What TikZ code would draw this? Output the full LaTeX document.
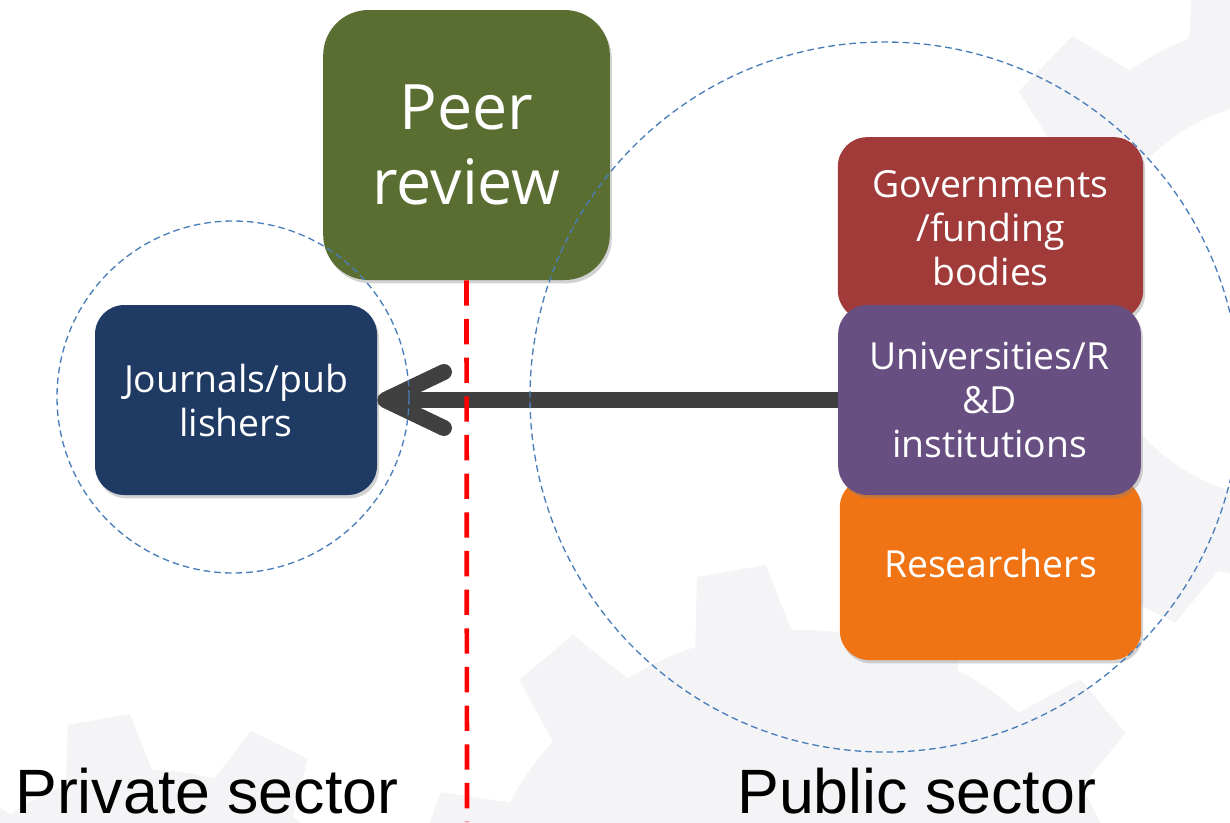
\documentclass[tikz,border=0pt]{standalone}
\usepackage{fontspec}
\setmainfont{Open Sans}
\newfontfamily\arialf{Liberation Sans}
\usetikzlibrary{arrows.meta,shadows}
\definecolor{peerg}{HTML}{5A6E31}
\definecolor{jblue}{HTML}{1F3B63}
\definecolor{govred}{HTML}{A03B3A}
\definecolor{unipur}{HTML}{674F82}
\definecolor{resorg}{HTML}{F07314}
\definecolor{circblue}{HTML}{4A7EBB}
\definecolor{arrowgrey}{HTML}{404040}
\definecolor{gearc}{HTML}{F4F4F7}
% #1 cx, #2 cy, #3 body radius, #4 tip radius, #5 teeth, #6 tooth half width, #7 hole radius
\newcommand\mygear[7]{%
  \fill[gearc] (#1,#2) circle[radius=#3];
  \foreach \k in {1,...,#5}{%
    \fill[gearc, shift={(#1,#2)}, rotate=\k*360/#5+10]
      (-#6,#3-10) -- (-0.7*#6,#4) -- (0.7*#6,#4) -- (#6,#3-10) -- cycle;}
  \fill[white] (#1,#2) circle[radius=#7];
}
\begin{document}
\begin{tikzpicture}[x=0.75pt,y=-0.75pt,
  box/.style={rounded corners=22pt, text=white, align=center, inner sep=0pt,
    font=\fontsize{28}{33}\selectfont,
    drop shadow={opacity=0.35,shadow xshift=1.5pt,shadow yshift=-2.5pt}},
  ring/.style={circle, draw=circblue, line width=1pt, dash pattern=on 5pt off 3pt, inner sep=0pt},
  divider/.style={red, line width=3.5pt, dash pattern=on 19pt off 10pt},
  flow/.style={arrowgrey, line width=12pt, {Straight Barb[length=44pt,width=42pt,round]}-},
  sector/.style={anchor=base west, inner sep=0pt, font=\arialf\fontsize{47}{56}\selectfont}]
\useasboundingbox (0,0) rectangle (1230,822);
\fill[white] (0,0) rectangle (1230,822);
% faint background gears
\begin{scope}
\clip (0,0) rectangle (1230,822);
\mygear{1290}{300}{280}{340}{10}{55}{200}
\mygear{800}{960}{330}{395}{12}{50}{90}
\mygear{150}{1010}{240}{295}{10}{45}{60}
\end{scope}
% boxes
\node[box, fill=peerg, minimum width=215pt, minimum height=202.5pt, rounded corners=34pt,
  font=\fontsize{47}{56}\selectfont] (peer) at (466.5,145) {Peer\\review};
\node[box, fill=jblue, minimum width=211.5pt, minimum height=142.5pt] (jour) at (236,400) {Journals/pub\\lishers};
\node[box, fill=govred, minimum width=229pt, minimum height=137pt] (gov) at (990.5,228.5) {Governments\\/funding\\bodies};
\node[box, fill=resorg, minimum width=226pt, minimum height=136.5pt] (res) at (990.5,569) {\raisebox{4pt}[\height][\depth]{Researchers}};
\node[box, fill=unipur, minimum width=227pt, minimum height=142.5pt] (uni) at (989.5,400) {Universities/R\\\&D\\institutions};
% arrow
\draw[flow] (jour.east) -- (uni.west);
% divider
\coordinate (rb) at (467,822);
\draw[divider] (peer.south) -- (rb);
% circles
\node[ring, minimum size=264pt] (privc) at (233,397) {};
\node[ring, minimum size=532.5pt] (pubc) at (885,397) {};
% labels
\node[sector] (priv) at (15,813) {Private sector};
\node[sector] (pub) at (737,813) {Public sector};
\end{tikzpicture}
\end{document}
